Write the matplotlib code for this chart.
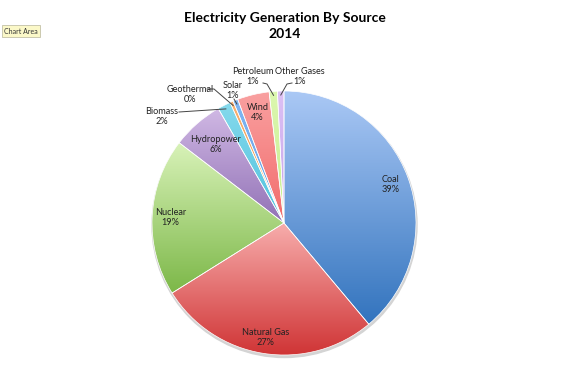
import numpy as np
import matplotlib
matplotlib.use("Agg")
import matplotlib.pyplot as plt
from matplotlib.colors import to_rgb

# data (percent of US generation, 2014)
sources = ["Coal", "Natural Gas", "Nuclear", "Hydropower", "Biomass",
           "Geothermal", "Solar", "Wind", "Petroleum", "Other Gases"]
shares = [38.9, 27.2, 19.3, 6.3, 1.6, 0.4, 0.6, 3.9, 1.0, 0.8]
pct_labels = ["39%", "27%", "19%", "6%", "2%", "0%", "1%", "4%", "1%", "1%"]

# gradient colours, top -> bottom
top_cols = ["#aac8f5", "#f7acab", "#d8f2b8", "#d0b8e4", "#85d9ec",
            "#f8b070", "#80b6f2", "#f9a0a0", "#dcf7b0", "#dcc0f4"]
bot_cols = ["#3374be", "#d03536", "#7db849", "#9272b6", "#4fc2de",
            "#f29a45", "#629de6", "#f26c6c", "#c6ee8c", "#c6a4ea"]

plt.rcParams['font.family'] = ['Lato', 'DejaVu Sans']

W, H = 570, 384
fig = plt.figure(figsize=(W / 100, H / 100), dpi=100)
ax = fig.add_axes([0, 0, 1, 1])

cx, cy, R = 284, H - 223, 132

# soft shadow under the pie
ax.add_patch(plt.Circle((cx + 0.5, cy - 2), R + 0.5, color="#d4d4d4", zorder=0))

wedges, _ = ax.pie(shares, startangle=90, counterclock=False, radius=R,
                   center=(cx, cy), frame=True,
                   wedgeprops=dict(edgecolor="white", linewidth=0.5))

for w, c0, c1 in zip(wedges, top_cols, bot_cols):
    w.set_facecolor("none")
    w.set_zorder(3)
    bb = w.get_path().get_extents()
    t = np.linspace(0, 1, 64)[:, None]
    grad = (1 - t) * np.array(to_rgb(c0)) + t * np.array(to_rgb(c1))
    im = ax.imshow(grad[:, None, :], extent=[bb.x0, bb.x1, bb.y0, bb.y1],
                   aspect="auto", interpolation="bilinear", zorder=2)
    im.set_clip_path(w)

fs = 6.6
tc = "#222222"


def two_lines(x, y, top, bottom):
    # y is the middle of the two lines, in px from the top
    ax.text(x, H - y + 5, top, ha="center", va="center", fontsize=fs, color=tc, zorder=5)
    ax.text(x, H - y - 5, bottom, ha="center", va="center", fontsize=fs, color=tc, zorder=5)


# labels inside the slices
inside = {0: 0.86, 1: 0.88, 2: 0.86, 3: 0.79, 7: 0.86}
for i, d in inside.items():
    w = wedges[i]
    a = np.deg2rad((w.theta1 + w.theta2) / 2)
    x = cx + d * R * np.cos(a)
    y = H - (cy + d * R * np.sin(a))
    two_lines(x, y, sources[i], pct_labels[i])

# labels outside with leader lines: (label x, label y in px from top, leader start)
outside = {
    4: ((162, 117), [(179, 112)]),
    5: ((190, 94), [(207, 89), (214, 89)]),
    6: ((233, 91), [(234, 99)]),
    8: ((253, 77), [(263, 83), (267, 84)]),
    9: ((300, 77), [(292, 83), (287, 84)]),
}
for i, ((lx, ly), pts) in outside.items():
    w = wedges[i]
    a = np.deg2rad((w.theta1 + w.theta2) / 2)
    two_lines(lx, ly, sources[i], pct_labels[i])
    xs = [p[0] for p in pts] + [cx + 0.97 * R * np.cos(a)]
    ys = [H - p[1] for p in pts] + [cy + 0.97 * R * np.sin(a)]
    ax.plot(xs, ys, color="#444444", lw=0.7, zorder=4)

ax.text(285, H - 26, "Electricity Generation By Source\n2014", ha="center",
        va="center", fontsize=10, fontweight="bold", color="black",
        linespacing=1.3)

ax.text(4, H - 31, "Chart Area", ha="left", va="center", fontsize=5,
        color="#333333",
        bbox=dict(boxstyle="square,pad=0.35", fc="#fbf8c8", ec="#b8b59a", lw=0.5))

ax.set_xlim(0, W)
ax.set_ylim(0, H)
ax.set_aspect("auto")
ax.axis("off")
fig.savefig("out.png", dpi=100)
